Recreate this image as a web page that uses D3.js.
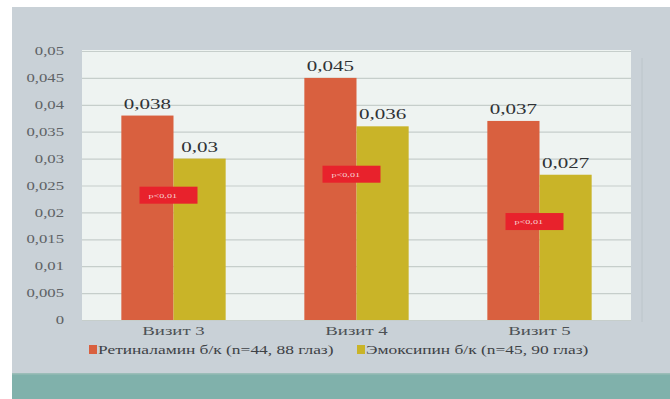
<!DOCTYPE html>
<html>
<head>
<meta charset="utf-8">
<script src="https://cdn.jsdelivr.net/npm/d3@7"></script>
<style>
  html, body { margin: 0; padding: 0; background: #ffffff; }
  svg { display: block; }
</style>
</head>
<body>
<svg id="chart" width="670" height="399"></svg>
<script>
// Visits and the two treatment groups
const visits = ["Визит 3", "Визит 4", "Визит 5"];
const seriesNames = ["Ретиналамин б/к (n=44, 88 глаз)", "Эмоксипин б/к (n=45, 90 глаз)"];
const retinalaminValues = [0.038, 0.045, 0.037];
const emoxipinValues = [0.03, 0.036, 0.027];
const valueLabels = [["0,038", "0,045", "0,037"], ["0,03", "0,036", "0,027"]];
// Significance badges: level on the value axis where each sits, and its text
const pLevels = [0.0232, 0.0271, 0.0183];
const pTexts = ["p<0,01", "p<0,01", "p<0,01"];
const yTicks = [0, 0.005, 0.01, 0.015, 0.02, 0.025, 0.03, 0.035, 0.04, 0.045, 0.05];
const yTickLabels = ["0", "0,005", "0,01", "0,015", "0,02", "0,025", "0,03", "0,035", "0,04", "0,045", "0,05"];

const colors = ["#d9603f", "#c9b428"];
const serif = "'Liberation Serif', 'Times New Roman', serif";
const stretch = 1.45; // the slide's lettering is set wide

const svg = d3.select("#chart");

// Slide backdrop
svg.append("rect").attr("x", 12).attr("y", 7).attr("width", 658).attr("height", 392).attr("fill", "#c9d1d7");
svg.append("rect").attr("x", 12).attr("y", 374).attr("width", 658).attr("height", 25).attr("fill", "#80b1ab");
svg.append("rect").attr("x", 12).attr("y", 373).attr("width", 658).attr("height", 1.5).attr("fill", "#9bbdb8");

const plot = { left: 82, right: 631, top: 51, bottom: 320 };

const x = d3.scaleBand().domain(visits).range([plot.left, plot.right]).paddingInner(0.43).paddingOuter(0.215);
const xs = d3.scaleBand().domain([0, 1]).range([0, x.bandwidth()]);
const y = d3.scaleLinear().domain([0, 0.05]).range([plot.bottom, plot.top]);

// Plot panel
svg.append("rect")
  .attr("x", plot.left).attr("y", plot.top - 1)
  .attr("width", plot.right - plot.left).attr("height", plot.bottom - plot.top + 2)
  .attr("fill", "#eef3f1");
svg.append("line").attr("x1", 642).attr("x2", 642).attr("y1", 58).attr("y2", 322)
  .attr("stroke", "#bcc5ca").attr("stroke-width", 1);

// Gridlines
svg.append("g").selectAll("line").data(yTicks).join("line")
  .attr("x1", plot.left).attr("x2", plot.right)
  .attr("y1", d => y(d) + 0.5).attr("y2", d => y(d) + 0.5)
  .attr("stroke", "#c6cecb").attr("stroke-width", 1.2);

// Places a wide-set text at (px, py)
function wideText(sel, px, py) {
  sel.attr("x", 0).attr("y", 0)
    .attr("transform", (d, i) => `translate(${px(d, i)},${py(d, i)}) scale(${stretch},1)`);
  return sel;
}

// Value axis
const yAxis = d3.axisLeft(y).tickValues(yTicks)
  .tickFormat((d, i) => yTickLabels[i]).tickSize(0);
const yg = svg.append("g").attr("transform", `translate(${plot.left},0)`).call(yAxis);
yg.select(".domain").remove();
yg.selectAll("text")
  .attr("x", 0).attr("dy", "0.32em")
  .attr("transform", `translate(-18,0) scale(${stretch},1)`)
  .attr("font-family", serif).attr("font-size", 11.5).attr("fill", "#5e6265");

// Bars
const series = [retinalaminValues, emoxipinValues];
series.forEach((vals, si) => {
  svg.append("g").selectAll("rect").data(visits).join("rect")
    .attr("x", d => x(d) + xs(si))
    .attr("y", (d, i) => y(vals[i]))
    .attr("width", xs.bandwidth())
    .attr("height", (d, i) => y(0) - y(vals[i]))
    .attr("fill", colors[si]);
  svg.append("g").selectAll("text").data(visits).join("text")
    .call(wideText, d => x(d) + xs(si) + xs.bandwidth() / 2, (d, i) => y(vals[i]) - 7)
    .attr("text-anchor", "middle")
    .attr("font-family", serif).attr("font-size", 14.5).attr("fill", "#2f3235")
    .text((d, i) => valueLabels[si][i]);
});

// Significance badges
const badges = svg.append("g").selectAll("g").data(visits).join("g")
  .attr("transform", (d, i) => `translate(${x(d) + x.bandwidth() / 2 - 5},${y(pLevels[i])})`);
badges.append("rect").attr("x", -29).attr("y", -8.5).attr("width", 58).attr("height", 17).attr("fill", "#e8222c");
badges.append("text").attr("x", 0).attr("y", 0)
  .attr("transform", `translate(-20,2.5) scale(${stretch},1)`)
  .attr("font-family", serif).attr("font-size", 7).attr("fill", "#f6d0d0")
  .text((d, i) => pTexts[i]);

// Category axis
const xAxis = d3.axisBottom(x).tickSize(0);
const xg = svg.append("g").attr("transform", `translate(0,${plot.bottom})`).call(xAxis);
xg.select(".domain").remove();
xg.selectAll("text")
  .attr("y", 0).attr("dy", 0)
  .attr("transform", `translate(0,15) scale(${stretch},1)`)
  .attr("font-family", serif).attr("font-size", 13).attr("fill", "#4d5155");

// Legend
const legendItems = [{ x: 89, name: seriesNames[0], color: colors[0] }, { x: 357, name: seriesNames[1], color: colors[1] }];
const lg = svg.append("g").selectAll("g").data(legendItems).join("g")
  .attr("transform", d => `translate(${d.x},354)`);
lg.append("rect").attr("x", 0).attr("y", -9).attr("width", 8).attr("height", 9).attr("fill", d => d.color);
lg.append("text").attr("x", 0).attr("y", 0)
  .attr("transform", `translate(9,0) scale(${stretch},1)`)
  .attr("font-family", serif).attr("font-size", 12).attr("fill", "#3e4246")
  .text(d => d.name);
</script>
</body>
</html>
